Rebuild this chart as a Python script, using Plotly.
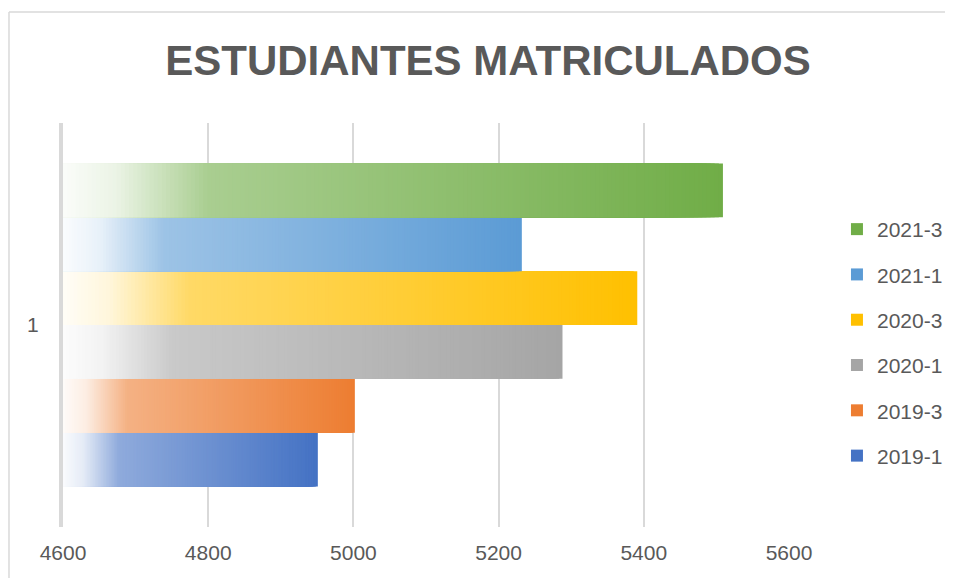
import numpy as np
import plotly.graph_objects as go

# ---- data ----
CATEGORY = "1"
PERIODS = ["2019-1", "2019-3", "2020-1", "2020-3", "2021-1", "2021-3"]
STUDENTS = [4951, 5002, 5288, 5391, 5232, 5509]
SERIES_COLORS = ["#4472C4", "#ED7D31", "#A5A5A5", "#FFC000", "#5B9BD5", "#70AD47"]
X_TICKS = [4600, 4800, 5000, 5200, 5400, 5600]
AXIS_MIN, AXIS_MAX = 4600, 5600
TITLE = "ESTUDIANTES MATRICULADOS"

# ---- style ----
TEXT_COLOR = "#595959"
GRID_COLOR = "#d9d9d9"
FONT = "Liberation Sans, Arial, sans-serif"
TITLE_FONT = "Liberation Sans, Arial, sans-serif"
N_SEG = 160
GRAD_T = [0.0, 0.08, 0.22, 1.0]   # position along bar
GRAD_M = [0.03, 0.14, 0.60, 1.0]  # share of full colour (rest is white)
FIG_W, FIG_H = 937, 570           # page body adds an 8px margin on each side


def tint(hex_color, m):
    h = hex_color.lstrip("#")
    rgb = [int(h[i:i + 2], 16) for i in (0, 2, 4)]
    mixed = [round(255 + (c - 255) * m) for c in rgb]
    return "rgb({},{},{})".format(*mixed)


fig = go.Figure()
n = len(PERIODS)
for k, (period, value, color) in enumerate(zip(PERIODS, STUDENTS, SERIES_COLORS)):
    span = value - AXIS_MIN
    # full-length segment first, then progressively shorter, paler ones on top
    widths = [span * (N_SEG - i) / N_SEG for i in range(N_SEG)]
    shades = [tint(color, float(np.interp((N_SEG - i - 0.5) / N_SEG, GRAD_T, GRAD_M)))
              for i in range(N_SEG)]
    fig.add_trace(go.Bar(
        y=[CATEGORY] * N_SEG,
        x=widths,
        base=[AXIS_MIN] * N_SEG,
        orientation="h",
        name=period,
        offsetgroup=period,
        legendgroup=period,
        legendrank=n - k,
        marker=dict(color=shades, line=dict(width=0)),
        customdata=[value] * N_SEG,
        hovertemplate="%{customdata}<extra>" + period + "</extra>",
    ))

border = dict(color=GRID_COLOR, width=1.5)
fig.update_layout(
    width=FIG_W, height=FIG_H,
    paper_bgcolor="white", plot_bgcolor="white",
    margin=dict(l=55, r=156, t=115, b=51, autoexpand=False),
    barmode="group", bargap=0.2, bargroupgap=0,
    font=dict(family=FONT, color=TEXT_COLOR, size=21),
    title=dict(text=TITLE, x=0.5123, xanchor="center", y=0.9075, yanchor="middle",
               xref="container", yref="container",
               font=dict(family=TITLE_FONT, size=42, color=TEXT_COLOR, weight="bold")),
    legend=dict(x=0.8847, xanchor="left", y=0.4132, yanchor="middle",
                xref="container", yref="container",
                traceorder="grouped", tracegroupgap=15,
                font=dict(size=21, color=TEXT_COLOR), itemwidth=30,
                bgcolor="rgba(0,0,0,0)"),
    showlegend=True,
    xaxis=dict(range=[AXIS_MIN, AXIS_MAX], tickvals=X_TICKS, showgrid=True,
               gridcolor=GRID_COLOR, gridwidth=2, zeroline=False, showline=False,
               ticks="", ticklabelstandoff=11, tickfont=dict(size=21, color=TEXT_COLOR),
               fixedrange=True),
    yaxis=dict(type="category", showgrid=False, zeroline=False,
               showline=True, linecolor=GRID_COLOR, linewidth=4,
               ticks="", ticklabelstandoff=16, tickfont=dict(size=21, color=TEXT_COLOR),
               fixedrange=True),
    shapes=[
        dict(type="line", xref="paper", yref="paper",
             x0=-0.0744, x1=1.30, y0=1.2748, y1=1.2748, line=border, layer="below"),
        dict(type="line", xref="paper", yref="paper",
             x0=-0.0744, x1=-0.0744, y0=-0.2, y1=1.2748, line=border, layer="below"),
    ],
)

fig.write_html(
    "out.html",
    post_script="document.documentElement.style.overflow='hidden';"
                "document.body.style.overflow='hidden';",
)
